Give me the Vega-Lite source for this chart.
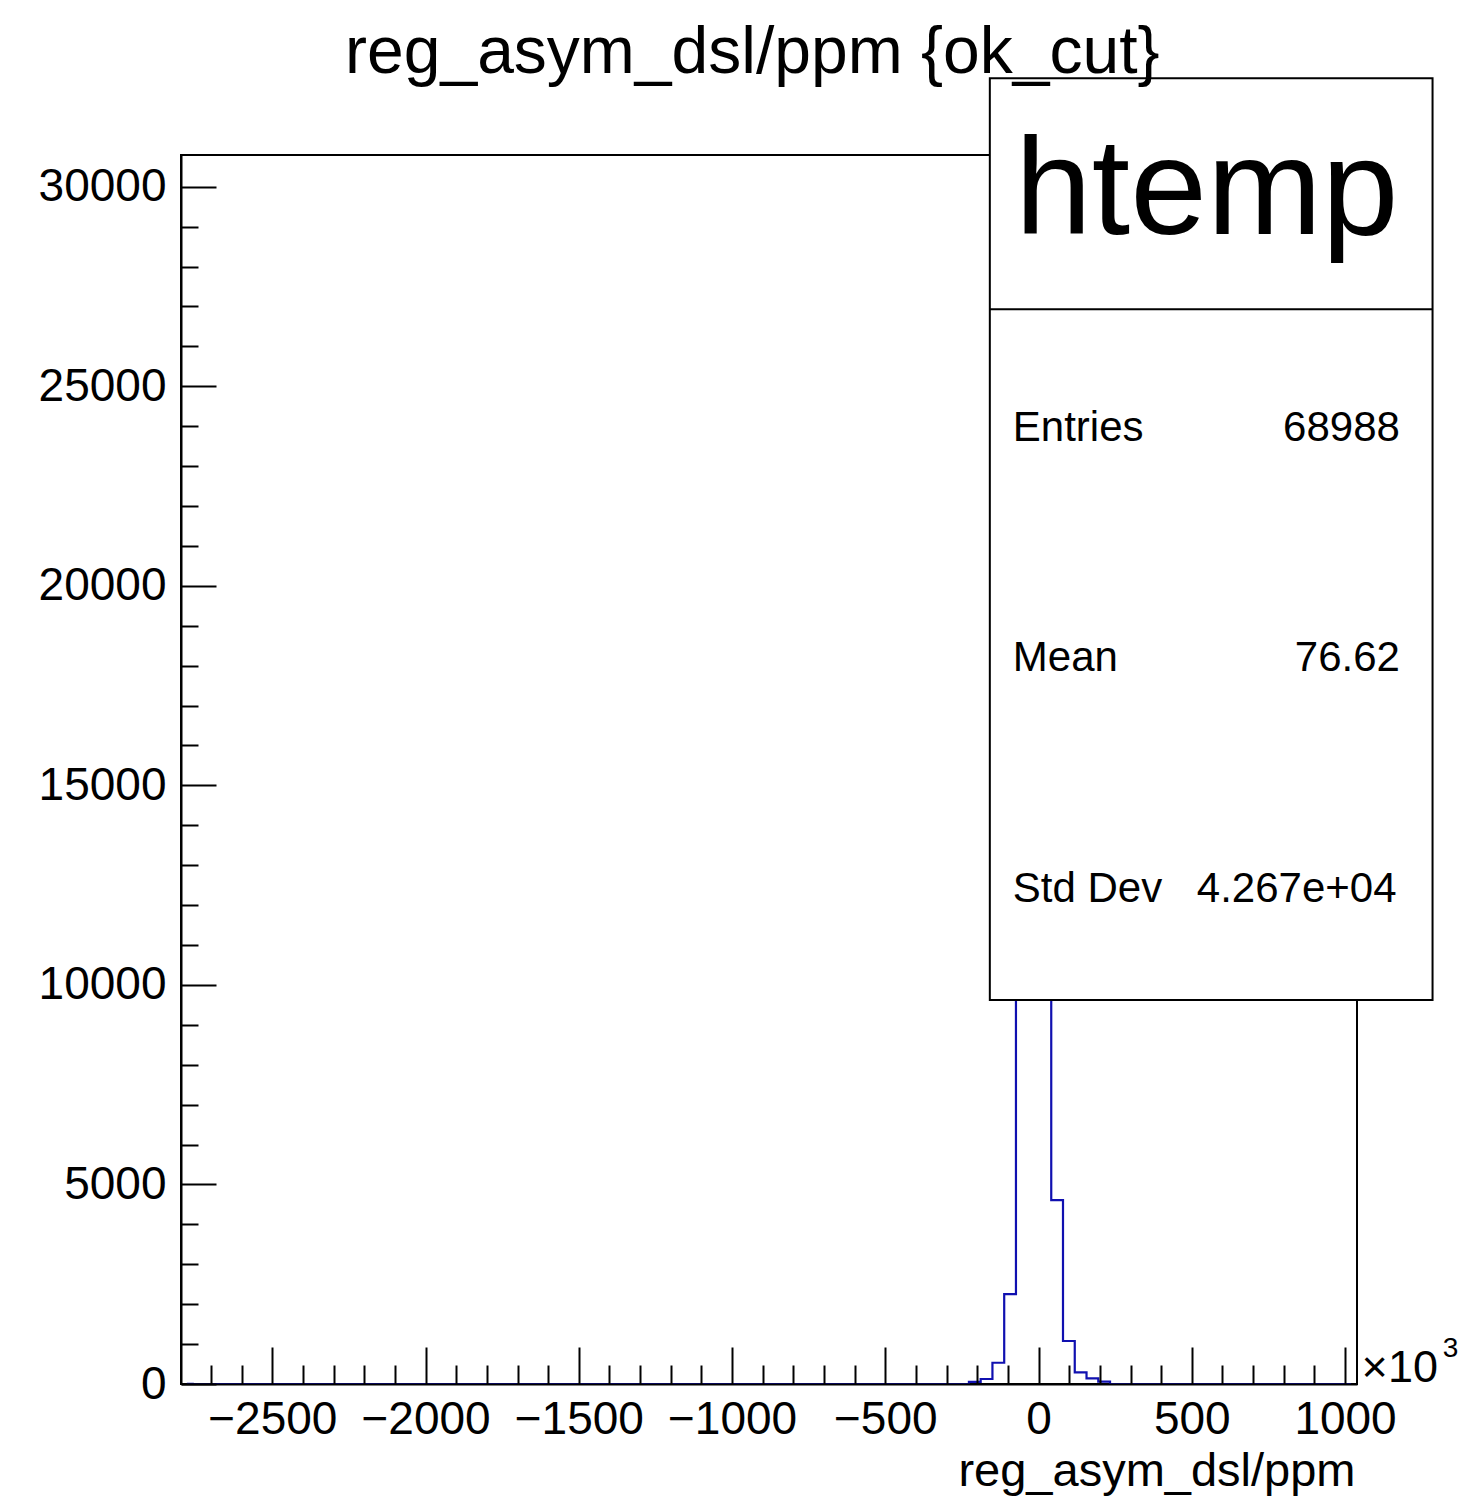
{
  "$schema": "https://vega.github.io/schema/vega-lite/v6.json",
  "width": 1176,
  "height": 1229,
  "autosize": {"type": "none"},
  "padding": {"left": 181, "top": 155, "right": 116, "bottom": 121},
  "background": "white",
  "config": {
    "font": "Liberation Sans",
    "view": {"stroke": "black", "strokeWidth": 2}
  },
  "resolve": {"axis": {"x": "independent", "y": "independent"}},
  "datasets": {
    "hist": [
      {"center": -2778.82, "count": 1},
      {"center": -2740.45, "count": 0},
      {"center": -2702.08, "count": 0},
      {"center": -2663.71, "count": 0},
      {"center": -2625.34, "count": 0},
      {"center": -2586.97, "count": 0},
      {"center": -2548.60, "count": 0},
      {"center": -2510.23, "count": 0},
      {"center": -2471.86, "count": 0},
      {"center": -2433.49, "count": 0},
      {"center": -2395.12, "count": 0},
      {"center": -2356.75, "count": 0},
      {"center": -2318.38, "count": 0},
      {"center": -2280.01, "count": 0},
      {"center": -2241.64, "count": 0},
      {"center": -2203.27, "count": 0},
      {"center": -2164.90, "count": 0},
      {"center": -2126.53, "count": 0},
      {"center": -2088.16, "count": 0},
      {"center": -2049.79, "count": 0},
      {"center": -2011.42, "count": 0},
      {"center": -1973.05, "count": 0},
      {"center": -1934.68, "count": 0},
      {"center": -1896.31, "count": 0},
      {"center": -1857.94, "count": 0},
      {"center": -1819.57, "count": 0},
      {"center": -1781.20, "count": 0},
      {"center": -1742.83, "count": 0},
      {"center": -1704.46, "count": 0},
      {"center": -1666.09, "count": 0},
      {"center": -1627.72, "count": 0},
      {"center": -1589.35, "count": 0},
      {"center": -1550.98, "count": 0},
      {"center": -1512.61, "count": 0},
      {"center": -1474.24, "count": 0},
      {"center": -1435.87, "count": 0},
      {"center": -1397.50, "count": 0},
      {"center": -1359.13, "count": 0},
      {"center": -1320.76, "count": 0},
      {"center": -1282.39, "count": 0},
      {"center": -1244.02, "count": 0},
      {"center": -1205.65, "count": 0},
      {"center": -1167.28, "count": 0},
      {"center": -1128.91, "count": 0},
      {"center": -1090.54, "count": 0},
      {"center": -1052.17, "count": 0},
      {"center": -1013.80, "count": 0},
      {"center": -975.43, "count": 0},
      {"center": -937.06, "count": 0},
      {"center": -898.69, "count": 0},
      {"center": -860.32, "count": 0},
      {"center": -821.95, "count": 0},
      {"center": -783.58, "count": 0},
      {"center": -745.21, "count": 0},
      {"center": -706.84, "count": 0},
      {"center": -668.47, "count": 0},
      {"center": -630.10, "count": 0},
      {"center": -591.73, "count": 0},
      {"center": -553.36, "count": 0},
      {"center": -514.99, "count": 0},
      {"center": -476.62, "count": 0},
      {"center": -438.25, "count": 0},
      {"center": -399.88, "count": 0},
      {"center": -361.51, "count": 0},
      {"center": -323.14, "count": 0},
      {"center": -284.77, "count": 0},
      {"center": -246.40, "count": 0},
      {"center": -208.03, "count": 55},
      {"center": -169.66, "count": 125},
      {"center": -131.29, "count": 533},
      {"center": -92.92, "count": 2254},
      {"center": -54.55, "count": 12510},
      {"center": -16.18, "count": 29330},
      {"center": 22.19, "count": 18001},
      {"center": 60.56, "count": 4608},
      {"center": 98.93, "count": 1077},
      {"center": 137.30, "count": 293},
      {"center": 175.67, "count": 143},
      {"center": 214.04, "count": 58},
      {"center": 252.41, "count": 0},
      {"center": 290.78, "count": 0},
      {"center": 329.15, "count": 0},
      {"center": 367.52, "count": 0},
      {"center": 405.89, "count": 0},
      {"center": 444.26, "count": 0},
      {"center": 482.63, "count": 0},
      {"center": 521.00, "count": 0},
      {"center": 559.37, "count": 0},
      {"center": 597.74, "count": 0},
      {"center": 636.11, "count": 0},
      {"center": 674.48, "count": 0},
      {"center": 712.85, "count": 0},
      {"center": 751.22, "count": 0},
      {"center": 789.59, "count": 0},
      {"center": 827.96, "count": 0},
      {"center": 866.33, "count": 0},
      {"center": 904.70, "count": 0},
      {"center": 943.07, "count": 0},
      {"center": 981.44, "count": 0},
      {"center": 1019.81, "count": 0}
    ],
    "one": [{}]
  },
  "layer": [
    {
      "data": {"name": "hist"},
      "mark": {"type": "line", "interpolate": "step", "color": "#1010b0", "strokeWidth": 2.2},
      "encoding": {
        "x": {
          "field": "center",
          "type": "quantitative",
          "scale": {"domain": [-2798, 1039], "nice": false, "zero": false},
          "axis": {
            "orient": "bottom",
            "title": "reg_asym_dsl/ppm",
            "titleFont": "Liberation Sans",
            "titleFontSize": 47,
            "titleFontWeight": "normal",
            "titleColor": "black",
            "titleAnchor": "end",
            "titleAlign": "right",
            "titleBaseline": "alphabetic",
            "titleX": 1174,
            "titleY": 101,
            "values": [-2500, -2000, -1500, -1000, -500, 0, 500, 1000],
            "format": "d",
            "labelFont": "Liberation Sans",
            "labelFontSize": 46,
            "labelColor": "black",
            "labelPadding": 50,
            "labelOverlap": false,
            "labelFlush": false,
            "labelBound": false,
            "tickColor": "black",
            "tickWidth": 2,
            "tickSize": -37,
            "domain": true,
            "domainColor": "black",
            "domainWidth": 2,
            "grid": false,
            "zindex": 1
          }
        },
        "y": {
          "field": "count",
          "type": "quantitative",
          "scale": {"domain": [0, 30794], "nice": false, "zero": true},
          "axis": {
            "orient": "left",
            "title": null,
            "values": [0, 5000, 10000, 15000, 20000, 25000, 30000],
            "format": "d",
            "labelFont": "Liberation Sans",
            "labelFontSize": 46,
            "labelColor": "black",
            "labelPadding": 50,
            "labelOverlap": false,
            "labelBound": false,
            "tickColor": "black",
            "tickWidth": 2,
            "tickSize": -35,
            "domain": true,
            "domainColor": "black",
            "domainWidth": 2,
            "grid": false,
            "zindex": 1
          }
        }
      }
    },
    {
      "data": {"name": "one"},
      "mark": {"type": "rect", "fill": "white", "stroke": "black", "strokeWidth": 2},
      "encoding": {
        "x": {
          "datum": -159,
          "axis": {
            "orient": "bottom",
            "title": null,
            "values": [-2700, -2600, -2400, -2300, -2200, -2100, -1900, -1800, -1700, -1600, -1400, -1300, -1200, -1100, -900, -800, -700, -600, -400, -300, -200, -100, 100, 200, 300, 400, 600, 700, 800, 900],
            "labels": false,
            "domain": false,
            "grid": false,
            "tickColor": "black",
            "tickWidth": 2,
            "tickSize": -19,
            "zindex": 1
          }
        },
        "x2": {"datum": 1285.5},
        "y": {
          "datum": 9622,
          "axis": {
            "orient": "left",
            "title": null,
            "values": [1000, 2000, 3000, 4000, 6000, 7000, 8000, 9000, 11000, 12000, 13000, 14000, 16000, 17000, 18000, 19000, 21000, 22000, 23000, 24000, 26000, 27000, 28000, 29000],
            "labels": false,
            "domain": false,
            "grid": false,
            "tickColor": "black",
            "tickWidth": 2,
            "tickSize": -17,
            "zindex": 1
          }
        },
        "y2": {"datum": 32716}
      }
    },
    {
      "data": {"name": "one"},
      "mark": {"type": "rule", "stroke": "black", "strokeWidth": 2},
      "encoding": {
        "x": {"datum": -159, "axis": null},
        "x2": {"datum": 1285.5},
        "y": {"datum": 26928, "axis": null}
      }
    },
    {
      "data": {"name": "one"},
      "mark": {"type": "text", "text": "htemp", "font": "Liberation Sans", "fontSize": 138, "align": "center", "baseline": "alphabetic", "color": "black"},
      "encoding": {"x": {"datum": 549, "axis": null}, "y": {"datum": 28815, "axis": null}}
    },
    {
      "data": {"name": "one"},
      "mark": {"type": "text", "text": "Entries", "font": "Liberation Sans", "fontSize": 42, "align": "left", "baseline": "alphabetic", "color": "black"},
      "encoding": {"x": {"datum": -84, "axis": null}, "y": {"datum": 23628, "axis": null}}
    },
    {
      "data": {"name": "one"},
      "mark": {"type": "text", "text": "68988", "font": "Liberation Sans", "fontSize": 42, "align": "right", "baseline": "alphabetic", "color": "black"},
      "encoding": {"x": {"datum": 1179, "axis": null}, "y": {"datum": 23628, "axis": null}}
    },
    {
      "data": {"name": "one"},
      "mark": {"type": "text", "text": "Mean", "font": "Liberation Sans", "fontSize": 42, "align": "left", "baseline": "alphabetic", "color": "black"},
      "encoding": {"x": {"datum": -84, "axis": null}, "y": {"datum": 17865, "axis": null}}
    },
    {
      "data": {"name": "one"},
      "mark": {"type": "text", "text": "76.62", "font": "Liberation Sans", "fontSize": 42, "align": "right", "baseline": "alphabetic", "color": "black"},
      "encoding": {"x": {"datum": 1179, "axis": null}, "y": {"datum": 17865, "axis": null}}
    },
    {
      "data": {"name": "one"},
      "mark": {"type": "text", "text": "Std Dev", "font": "Liberation Sans", "fontSize": 42, "align": "left", "baseline": "alphabetic", "color": "black"},
      "encoding": {"x": {"datum": -84, "axis": null}, "y": {"datum": 12077, "axis": null}}
    },
    {
      "data": {"name": "one"},
      "mark": {"type": "text", "text": "4.267e+04", "font": "Liberation Sans", "fontSize": 42, "align": "right", "baseline": "alphabetic", "color": "black"},
      "encoding": {"x": {"datum": 1168, "axis": null}, "y": {"datum": 12077, "axis": null}}
    },
    {
      "data": {"name": "one"},
      "mark": {"type": "text", "text": "×10", "font": "Liberation Sans", "fontSize": 45, "align": "left", "baseline": "alphabetic", "color": "black"},
      "encoding": {"x": {"datum": 1054, "axis": null}, "y": {"datum": 50, "axis": null}}
    },
    {
      "data": {"name": "one"},
      "mark": {"type": "text", "text": "3", "font": "Liberation Sans", "fontSize": 28, "align": "left", "baseline": "alphabetic", "color": "black"},
      "encoding": {"x": {"datum": 1319, "axis": null}, "y": {"datum": 676, "axis": null}}
    },
    {
      "data": {"name": "one"},
      "mark": {"type": "text", "text": "reg_asym_dsl/ppm {ok_cut}", "font": "Liberation Sans", "fontSize": 66, "align": "center", "baseline": "alphabetic", "color": "black"},
      "encoding": {"x": {"datum": -934, "axis": null}, "y": {"datum": 32849, "axis": null}}
    }
  ]
}
